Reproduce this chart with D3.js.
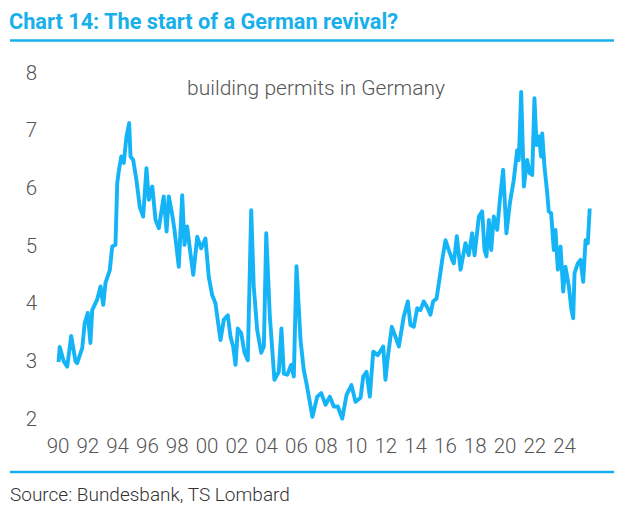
<!DOCTYPE html>
<html lang="en">
<head>
<meta charset="UTF-8">
<title>Chart 14: The start of a German revival?</title>
<style>
  body { margin: 0; background: #fff; }
  svg { display: block; }
  .title { font-family: Roboto, sans-serif; font-weight: bold; fill: #18b0ea; }
  .rule { stroke: #18b0ea; stroke-width: 2.5px; }
  .tick text { font-family: Roboto, sans-serif; font-weight: 300; fill: #555; }
  .subtitle { font-family: Roboto, sans-serif; font-weight: 300; fill: #555; font-size: 21px; }
  .source { font-family: Roboto, sans-serif; font-weight: 300; fill: #333; font-size: 19px; }
  .permits { fill: none; stroke: #14b4f7; stroke-width: 3.9px; stroke-linejoin: round; }
</style>
</head>
<body>
<div id="chart"></div>
<script src="https://cdnjs.cloudflare.com/ajax/libs/d3/7.8.5/d3.min.js"></script>
<script>
// decimal year and value
var years = [
  1990.07, 1990.15, 1990.42, 1990.65, 1990.92, 1991.21, 1991.32, 1991.66, 1991.83, 1992.03,
  1992.21, 1992.33, 1992.66, 1992.89, 1993.07, 1993.22, 1993.51, 1993.67, 1993.89, 1994.01,
  1994.11, 1994.28, 1994.45, 1994.63, 1994.81, 1994.90, 1995.08, 1995.30, 1995.52, 1995.75,
  1995.97, 1996.13, 1996.36, 1996.58, 1996.80, 1997.13, 1997.32, 1997.47, 1997.70, 1997.85,
  1998.14, 1998.37, 1998.52, 1998.70, 1998.88, 1999.11, 1999.38, 1999.64, 1999.93, 2000.15,
  2000.38, 2000.60, 2000.94, 2001.16, 2001.43, 2001.61, 2001.79, 2001.95, 2002.10, 2002.33,
  2002.55, 2002.77, 2003.00, 2003.17, 2003.40, 2003.67, 2003.85, 2004.01, 2004.25, 2004.56,
  2004.85, 2005.03, 2005.19, 2005.42, 2005.68, 2005.86, 2006.04, 2006.31, 2006.53, 2006.71,
  2007.11, 2007.43, 2007.70, 2007.99, 2008.28, 2008.54, 2008.81, 2009.11, 2009.40, 2009.73,
  2010.00, 2010.34, 2010.52, 2010.74, 2010.96, 2011.19, 2011.50, 2011.86, 2012.01, 2012.17,
  2012.44, 2012.68, 2012.91, 2013.24, 2013.51, 2013.69, 2013.91, 2014.14, 2014.36, 2014.58,
  2014.85, 2015.03, 2015.21, 2015.44, 2015.66, 2015.82, 2016.04, 2016.26, 2016.49, 2016.60,
  2016.80, 2017.05, 2017.38, 2017.60, 2017.83, 2017.99, 2018.28, 2018.50, 2018.66, 2018.79,
  2018.95, 2019.11, 2019.28, 2019.51, 2019.69, 2019.91, 2020.13, 2020.36, 2020.62, 2020.85,
  2020.96, 2021.12, 2021.30, 2021.52, 2021.70, 2021.86, 2022.01, 2022.15, 2022.30, 2022.46,
  2022.53, 2022.68, 2022.87, 2022.97, 2023.13, 2023.31, 2023.42, 2023.58, 2023.76, 2023.94,
  2024.09, 2024.32, 2024.48, 2024.61, 2024.70, 2024.92, 2025.10, 2025.28, 2025.44, 2025.59,
  2025.72
];
var permits = [
  2.97, 3.23, 2.98, 2.89, 3.42, 2.98, 2.95, 3.21, 3.65, 3.82,
  3.30, 3.87, 4.05, 4.28, 3.96, 4.34, 4.56, 4.97, 5.00, 6.07,
  6.27, 6.53, 6.42, 6.88, 7.11, 6.53, 6.47, 6.12, 5.66, 5.49,
  6.33, 5.78, 6.01, 5.43, 5.29, 5.84, 5.23, 5.84, 5.52, 5.26,
  4.62, 5.86, 5.00, 5.32, 4.94, 4.48, 5.14, 4.94, 5.11, 4.45,
  4.13, 3.99, 3.35, 3.70, 3.78, 3.41, 3.24, 2.92, 3.55, 3.47,
  3.13, 3.00, 5.60, 4.28, 3.53, 3.13, 3.24, 5.20, 3.76, 2.66,
  2.80, 3.55, 2.77, 2.75, 2.92, 2.72, 4.63, 3.35, 2.83, 2.60,
  2.02, 2.37, 2.43, 2.23, 2.37, 2.20, 2.20, 1.99, 2.40, 2.57,
  2.28, 2.35, 2.72, 2.80, 2.37, 3.15, 3.09, 3.24, 2.66, 3.06,
  3.58, 3.41, 3.24, 3.76, 4.02, 3.61, 3.58, 3.90, 3.87, 4.02,
  3.90, 3.79, 4.02, 4.07, 4.45, 4.74, 5.08, 4.91, 4.74, 4.68,
  5.15, 4.57, 5.03, 4.82, 5.20, 4.82, 5.49, 5.58, 4.91, 4.80,
  5.43, 4.91, 5.49, 5.26, 5.78, 6.30, 5.20, 5.72, 6.12, 6.64,
  6.47, 7.65, 6.01, 6.47, 6.24, 6.21, 7.54, 6.73, 6.88, 6.53,
  6.93, 6.36, 5.89, 5.58, 5.55, 4.91, 5.26, 4.57, 4.97, 4.19,
  4.62, 4.28, 3.90, 3.73, 4.51, 4.68, 4.74, 4.36, 5.08, 5.03,
  5.63
];
var xTicks = d3.range(1990, 2025, 2);
var yTicks = [2, 3, 4, 5, 6, 7, 8];

var width = 626, height = 511;

var svg = d3.select('#chart').append('svg')
  .attr('width', width)
  .attr('height', height);

// header
svg.append('text')
  .attr('class', 'title')
  .attr('x', 9)
  .attr('y', 29)
  .attr('font-size', 22.5)
  .attr('textLength', 389)
  .attr('lengthAdjust', 'spacingAndGlyphs')
  .text('Chart 14: The start of a German revival?');

svg.append('line').attr('class', 'rule')
  .attr('x1', 10).attr('x2', 614).attr('y1', 40.5).attr('y2', 40.5);

var x = d3.scaleLinear().domain([1990, 2024]).range([57.5, 564.1]);
var y = d3.scaleLinear().domain([2, 8]).range([418, 71.7]);

var yAxis = svg.append('g')
  .attr('transform', 'translate(37,0)')
  .call(d3.axisLeft(y).tickValues(yTicks).tickSize(0).tickPadding(0).tickFormat(d3.format('d')));
yAxis.select('.domain').remove();
yAxis.selectAll('text').attr('font-size', 20.5).attr('dy', '0.36em');

var xAxis = svg.append('g')
  .call(d3.axisBottom(x).tickValues(xTicks).tickSize(0).tickPadding(0)
    .tickFormat(function(d) { return String(d).slice(2); }));
xAxis.select('.domain').remove();
xAxis.selectAll('text').attr('font-size', 20.5).attr('y', 452.5).attr('dy', 0);

svg.append('text')
  .attr('class', 'subtitle')
  .attr('x', 316)
  .attr('y', 95)
  .attr('text-anchor', 'middle')
  .text('building permits in Germany');

var line = d3.line()
  .x(function(d, i) { return x(years[i]); })
  .y(function(d) { return y(d); });

svg.append('path')
  .attr('class', 'permits')
  .attr('d', line(permits));

// footer
svg.append('line').attr('class', 'rule')
  .attr('x1', 10).attr('x2', 614).attr('y1', 472).attr('y2', 472);

svg.append('text')
  .attr('class', 'source')
  .attr('x', 10)
  .attr('y', 501)
  .text('Source: Bundesbank, TS Lombard');
</script>
</body>
</html>
